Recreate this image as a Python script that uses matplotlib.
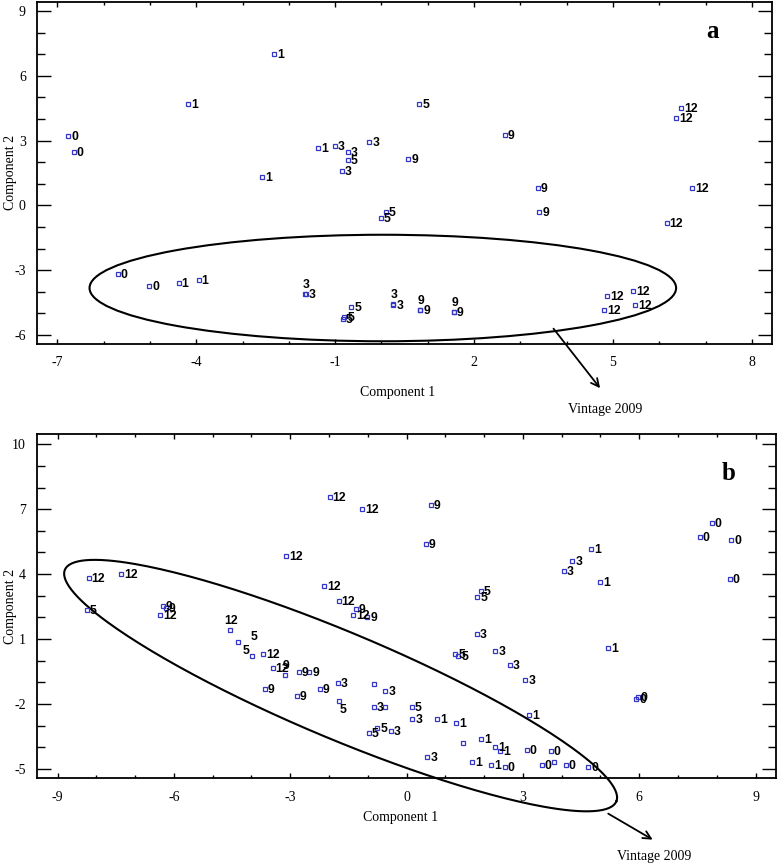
import numpy as np
import matplotlib
matplotlib.use('Agg')
import matplotlib.pyplot as plt
from matplotlib.patches import Ellipse
from matplotlib.ticker import MultipleLocator

plt.rcParams['axes.unicode_minus'] = False

# Panel a: scores on component 1 / component 2, labels = months of ageing
a_x = [-6.76, -6.65, -4.17, -2.32, -2.58, -1.36, -1.01, -0.73, -0.73, -0.86,
       -0.26, 0.82, 0.58, 2.66, 3.38, 3.41, 0.09, -0.02, 6.47, 6.36,
       6.71, 6.16,
       -5.70, -5.02, -4.38, -3.95, -1.63, -1.65, -0.65, -0.80, -0.83,
       0.26, 0.25, 0.84, 0.84, 1.57, 1.56, 4.87, 4.81, 5.44, 5.48]
a_y = [3.23, 2.47, 4.69, 7.02, 1.31, 2.65, 2.75, 2.47, 2.10, 1.59,
       2.96, 4.69, 2.14, 3.25, 0.79, -0.31, -0.31, -0.57, 4.50, 4.04,
       0.82, -0.82,
       -3.16, -3.73, -3.60, -3.43, -4.12, -4.10, -4.71, -5.15, -5.25,
       -4.60, -4.55, -4.86, -4.84, -4.95, -4.92, -4.20, -4.86, -3.98, -4.60]
a_lab = ['0', '0', '1', '1', '1', '1', '3', '3', '5', '3',
         '3', '5', '9', '9', '9', '9', '5', '5', '12', '12',
         '12', '12',
         '0', '0', '1', '1', '3', '3', '5', '5', '5',
         '3', '3', '9', '9', '9', '9', '12', '12', '12', '12']
# where each label sits relative to its marker
a_pos = ['r'] * 22 + ['r', 'r', 'r', 'r', 'r', 'u', 'r', 'r', 'r',
                      'r', 'u', 'r', 'u', 'r', 'u', 'r', 'r', 'r', 'r']

# Panel b
b_x = [-1.98, -1.14, -3.11, -8.20, -7.36, -2.12, -1.75, -1.31, -1.37, -1.01,
       -8.25, -6.29, -6.20, -6.35, -4.55, 0.63, 0.50, 1.92, 1.83, 4.76,
       4.28, 4.05, 5.00, 7.87, 7.56, 8.37, 8.34, -4.35, -3.98, -3.69,
       -3.45, -3.13, -2.77, -2.51, -3.65, -2.83, -2.23, -1.78, -1.75, -0.84,
       -0.55, -0.84, -0.55, -0.98, -0.75, -0.40, 1.82, 1.26, 1.34, 2.29,
       2.67, 3.06, 5.19, 5.92, 5.96, 3.16, 0.13, 0.15, 0.78, 1.27,
       0.54, 1.46, 1.92, 2.29, 2.42, 1.69, 2.19, 2.53, 3.10, 3.72,
       3.49, 3.80, 4.10, 4.69]
b_y = [7.55, 7.02, 4.85, 3.83, 3.99, 3.43, 2.77, 2.41, 2.09, 2.02,
       2.35, 2.54, 2.45, 2.12, 1.43, 7.18, 5.41, 3.20, 2.92, 5.14,
       4.59, 4.16, 3.62, 6.34, 5.72, 5.56, 3.77, 0.88, 0.20, 0.29,
       -0.36, -0.65, -0.51, -0.54, -1.30, -1.62, -1.33, -1.01, -1.85, -1.08,
       -1.40, -2.14, -2.14, -3.35, -3.13, -3.27, 1.23, 0.31, 0.20, 0.46,
       -0.22, -0.91, 0.58, -1.76, -1.66, -2.49, -2.12, -2.70, -2.68, -2.88,
       -4.43, -3.79, -3.62, -3.99, -4.15, -4.66, -4.84, -4.92, -4.14, -4.17,
       -4.81, -4.70, -4.84, -4.92]
b_lab = ['12', '12', '12', '12', '12', '12', '12', '9', '12', '9',
         '5', '9', '9', '12', '12', '9', '9', '5', '5', '1',
         '3', '3', '1', '0', '0', '0', '0', '5', '5', '12',
         '12', '9', '9', '9', '9', '9', '9', '3', '5', '',
         '3', '3', '', '5', '5', '3', '3', '5', '5', '3',
         '3', '3', '1', '0', '0', '1', '5', '3', '1', '1',
         '3', '', '1', '1', '1', '1', '1', '0', '0', '0',
         '0', '', '0', '0']
b_pos = ['r'] * 14 + ['u'] + ['r'] * 12 + ['ur', 'ul', 'r', 'r', 'u'] + \
        ['r'] * 6 + ['d'] + ['r'] * 35

a_xticks = [-7, -4, -1, 2, 5, 8]
a_yticks = [-6, -3, 0, 3, 6, 9]
b_xticks = [-9, -6, -3, 0, 3, 6, 9]
b_yticks = [-5, -2, 1, 4, 7, 10]

# label offsets in pixels: (dx, dy, ha)
offs = {'r': (3, -1, 'left'), 'u': (1, 9, 'center'), 'ur': (16, 5, 'center'),
        'ul': (-6, 5, 'center'), 'd': (4, -9, 'center')}

serif = 'Liberation Serif'
blue = '#3535c8'

fig = plt.figure(figsize=(7.77, 8.64), dpi=100)
ax1 = fig.add_axes([0.0476, 0.6024, 0.9456, 0.3953])
ax2 = fig.add_axes([0.0476, 0.0990, 0.9507, 0.3984])


def draw_panel(ax, xs, ys, labs, pos, xt, yt, xlim, ylim):
    ax.plot(xs, ys, 's', ms=3.4, mfc='none', mec=blue, mew=0.9, zorder=3)
    for x, y, t, p in zip(xs, ys, labs, pos):
        dx, dy, ha = offs[p]
        ax.annotate(t, (x, y), xytext=(dx, dy), textcoords='offset pixels',
                    ha=ha, va='center', fontsize=8.8, fontweight='bold',
                    family='Liberation Sans', zorder=4)
    ax.set_xlim(xlim)
    ax.set_ylim(ylim)
    ax.set_xticks(xt)
    ax.set_yticks(yt)
    ax.xaxis.set_minor_locator(MultipleLocator(1))
    ax.yaxis.set_minor_locator(MultipleLocator(1))
    ax.tick_params(axis='x', which='major', direction='in', length=3.8,
                   width=1, top=True, pad=9)
    ax.tick_params(axis='x', which='minor', direction='in', length=2.2,
                   width=1, top=True)
    ax.tick_params(axis='y', which='major', direction='in', length=10,
                   width=1, right=True, pad=8)
    ax.tick_params(axis='y', which='minor', direction='in', length=5.8,
                   width=1, right=True)
    for lab in ax.get_xticklabels() + ax.get_yticklabels():
        lab.set_family(serif)
        lab.set_fontsize(10)
    for s in ax.spines.values():
        s.set_linewidth(1.3)
    ax.set_xlabel('Component 1', family=serif, fontsize=10)
    ax.set_ylabel('Component 2', family=serif, fontsize=10)
    ax.yaxis.set_label_coords(-0.027, 0.5)


draw_panel(ax1, a_x, a_y, a_lab, a_pos, a_xticks, a_yticks,
           (-7.44, 8.43), (-6.39, 9.42))
draw_panel(ax2, b_x, b_y, b_lab, b_pos, b_xticks, b_yticks,
           (-9.53, 9.52), (-5.44, 10.46))
ax1.xaxis.set_label_coords(0.491, -0.125)
ax2.xaxis.set_label_coords(0.4925, -0.094)

# panel a: ellipse around the 2009 vintage
ax1.add_patch(Ellipse((0.03, -3.82), 12.67, 4.93, fill=False, lw=1.5,
                      ec='black', zorder=2))
ax1.annotate('', xy=(4.76, -8.56), xytext=(3.68, -5.60),
             arrowprops=dict(arrowstyle='->', lw=1.3, color='black',
                             mutation_scale=14),
             annotation_clip=False)
ax1.text(4.83, -9.46, 'Vintage 2009', family=serif, fontsize=10,
         ha='center', va='center', clip_on=False)
ax1.text(0.919, 0.915, 'a', transform=ax1.transAxes, family=serif,
         fontsize=18, fontweight='bold', ha='center', va='center')

# panel b: tilted ellipse, drawn from centre and semi-axis vectors
t = np.linspace(0, 2 * np.pi, 300)
cx, cy = -1.70, -1.15
ux, uy = 7.11, -5.35
vx, vy = -0.53, -2.26
ax2.plot(cx + ux * np.cos(t) + vx * np.sin(t),
         cy + uy * np.cos(t) + vy * np.sin(t),
         color='black', lw=1.5, clip_on=False, zorder=2)
ax2.annotate('', xy=(6.41, -8.33), xytext=(5.14, -7.0),
             arrowprops=dict(arrowstyle='->', lw=1.3, color='black',
                             mutation_scale=14),
             annotation_clip=False)
ax2.text(6.39, -9.05, 'Vintage 2009', family=serif, fontsize=10,
         ha='center', va='center', clip_on=False)
ax2.text(0.936, 0.885, 'b', transform=ax2.transAxes, family=serif,
         fontsize=18, fontweight='bold', ha='center', va='center')

fig.savefig('out.png', dpi=100)
